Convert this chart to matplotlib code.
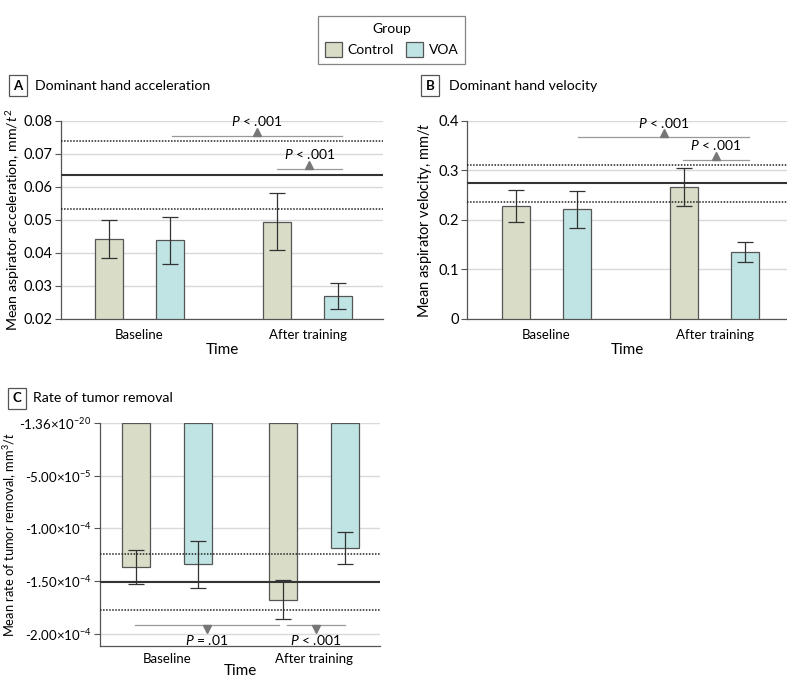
import matplotlib
matplotlib.use("Agg")
import matplotlib.pyplot as plt
from matplotlib.patches import Patch
from matplotlib.transforms import offset_copy
import numpy as np

plt.rcParams['font.family'] = ['Lato', 'DejaVu Sans']
plt.rcParams['mathtext.fontset'] = 'custom'
plt.rcParams['mathtext.rm'] = 'Lato'
plt.rcParams['mathtext.it'] = 'Lato:italic'

# data
times = ['Baseline', 'After training']
groups = ['Control', 'VOA']
colors = ['#d9dcc6', '#bfe4e3']

acc_control = [0.0441, 0.0495]
acc_control_lo = [0.0385, 0.0408]
acc_control_hi = [0.0499, 0.0581]
acc_voa = [0.0438, 0.0269]
acc_voa_lo = [0.0368, 0.0229]
acc_voa_hi = [0.0510, 0.0309]
acc_ref = [0.0533, 0.0637, 0.0739]   # lower, mean, upper

vel_control = [0.228, 0.267]
vel_control_lo = [0.195, 0.229]
vel_control_hi = [0.260, 0.304]
vel_voa = [0.2215, 0.1347]
vel_voa_lo = [0.1845, 0.1145]
vel_voa_hi = [0.258, 0.155]
vel_ref = [0.237, 0.274, 0.312]

rate_control = [-1.365e-4, -1.676e-4]
rate_control_lo = [-1.524e-4, -1.863e-4]
rate_control_hi = [-1.210e-4, -1.486e-4]
rate_voa = [-1.343e-4, -1.190e-4]
rate_voa_lo = [-1.562e-4, -1.343e-4]
rate_voa_hi = [-1.124e-4, -1.038e-4]
rate_ref = [-1.771e-4, -1.511e-4, -1.244e-4]

acc_p = ['$P$ < .001', '$P$ < .001']
vel_p = ['$P$ < .001', '$P$ < .001']
rate_p = ['$P$ = .01', '$P$ < .001']

fig = plt.figure(figsize=(7.87, 6.9), dpi=100)


def draw_panel(ax, ctrl, ctrl_lo, ctrl_hi, voa, voa_lo, voa_hi, ref, off, width, bottom):
    x = np.arange(len(times))
    for i, (m, lo, hi) in enumerate([(ctrl, ctrl_lo, ctrl_hi), (voa, voa_lo, voa_hi)]):
        xs = x + (2 * i - 1) * off
        m = np.array(m)
        ax.bar(xs, m - bottom, width, bottom=bottom, color=colors[i],
               edgecolor='#555555', linewidth=0.9, zorder=3)
        yerr = [m - np.array(lo), np.array(hi) - m]
        ax.errorbar(xs, m, yerr=yerr, fmt='none', ecolor='#333333',
                    elinewidth=0.9, capsize=5.5, capthick=0.9, zorder=4)
    ax.axhline(ref[1], color='#333333', lw=1.5, zorder=5)
    ax.axhline(ref[0], color='#222222', lw=1.1, ls=(0, (1, 1)), zorder=5)
    ax.axhline(ref[2], color='#222222', lw=1.1, ls=(0, (1, 1)), zorder=5)
    ax.set_xticks(x)
    ax.set_xticklabels(times, fontsize=9.5)
    ax.tick_params(axis='x', length=0, pad=7)
    ax.tick_params(axis='y', length=4, width=0.8, color='#555555', labelsize=10.5, pad=2)
    ax.grid(axis='y', color='#d9d9d9', lw=1, zorder=0)
    ax.set_axisbelow(True)
    for s in ['top', 'right']:
        ax.spines[s].set_visible(False)
    for s in ['left', 'bottom']:
        ax.spines[s].set_color('#555555')
        ax.spines[s].set_linewidth(0.9)
    ax.set_xlabel('Time', fontsize=11, labelpad=2)


def bracket(ax, x0, x1, y, label, up=True):
    ax.plot([x0, x1], [y, y], color='#999999', lw=0.9, zorder=6, clip_on=False)
    xm = (x0 + x1) / 2
    if up:
        tr = offset_copy(ax.transData, fig=fig, x=0, y=3, units='points')
        ax.plot([xm], [y], marker='^', ms=5.5, color='#777777', transform=tr,
                zorder=7, clip_on=False)
        tt = offset_copy(ax.transData, fig=fig, x=0, y=7, units='points')
        ax.text(xm, y, label, ha='center', va='baseline', fontsize=10, transform=tt)
    else:
        tr = offset_copy(ax.transData, fig=fig, x=0, y=-3, units='points')
        ax.plot([xm], [y], marker='v', ms=5.5, color='#777777', transform=tr,
                zorder=7, clip_on=False)
        tt = offset_copy(ax.transData, fig=fig, x=0, y=-6, units='points')
        ax.text(xm, y, label, ha='center', va='top', fontsize=10, transform=tt)


def panel_title(x_box, x_txt, y, letter, title):
    fig.text(x_box, y, letter, ha='center', va='center', fontsize=9.5, fontweight='bold',
             bbox=dict(boxstyle='square,pad=0.35', fc='white', ec='#555555', lw=0.9))
    fig.text(x_txt, y, title, ha='left', va='center', fontsize=10.2)


# Panel A
axA = fig.add_axes([0.0775, 0.5377, 0.409, 0.287])
draw_panel(axA, acc_control, acc_control_lo, acc_control_hi,
           acc_voa, acc_voa_lo, acc_voa_hi, acc_ref, 0.181, 0.167, 0.02)
axA.set_xlim(-0.466, 1.445)
axA.set_ylim(0.02, 0.08)
axA.set_yticks([0.02, 0.03, 0.04, 0.05, 0.06, 0.07, 0.08])
axA.set_yticklabels(['0.02', '0.03', '0.04', '0.05', '0.06', '0.07', '0.08'])
axA.set_ylabel('Mean aspirator acceleration, mm/$t^2$', fontsize=10.2, labelpad=1)
bracket(axA, 0.193, 1.20, 0.0755, acc_p[0])
bracket(axA, 0.816, 1.20, 0.0655, acc_p[1])
panel_title(0.023, 0.045, 0.876, 'A', 'Dominant hand acceleration')

# Panel B
axB = fig.add_axes([0.5934, 0.5377, 0.4066, 0.287])
draw_panel(axB, vel_control, vel_control_lo, vel_control_hi,
           vel_voa, vel_voa_lo, vel_voa_hi, vel_ref, 0.182, 0.167, 0.0)
axB.set_xlim(-0.473, 1.43)
axB.set_ylim(0, 0.4)
axB.set_yticks([0, 0.1, 0.2, 0.3, 0.4])
axB.set_yticklabels(['0', '0.1', '0.2', '0.3', '0.4'])
axB.set_ylabel('Mean aspirator velocity, mm/$t$', fontsize=10.5, labelpad=3)
bracket(axB, 0.1875, 1.205, 0.367, vel_p[0])
bracket(axB, 0.8125, 1.205, 0.321, vel_p[1])
panel_title(0.547, 0.571, 0.876, 'B', 'Dominant hand velocity')

# Panel C
axC = fig.add_axes([0.127, 0.0638, 0.3558, 0.3232])
draw_panel(axC, rate_control, rate_control_lo, rate_control_hi,
           rate_voa, rate_voa_lo, rate_voa_hi, rate_ref, 0.21, 0.19, 0.0)
axC.set_xlim(-0.456, 1.449)
axC.set_ylim(-2.117e-4, 0)
axC.set_yticks([0, -5e-5, -1e-4, -1.5e-4, -2e-4])
axC.set_yticklabels([r'-1.36$\times$10$^{-20}$', r'-5.00$\times$10$^{-5}$',
                     r'-1.00$\times$10$^{-4}$', r'-1.50$\times$10$^{-4}$',
                     r'-2.00$\times$10$^{-4}$'], fontsize=9.5)
axC.set_ylabel('Mean rate of tumor removal, mm$^3$/$t$', fontsize=9.3, labelpad=0)
axC.tick_params(axis='x', pad=5)
axC.xaxis.labelpad = -1
bracket(axC, -0.218, 0.762, -1.914e-4, rate_p[0], up=False)
bracket(axC, 0.816, 1.21, -1.914e-4, rate_p[1], up=False)
panel_title(0.021, 0.042, 0.423, 'C', 'Rate of tumor removal')

# Legend
handles = [Patch(facecolor=colors[i], edgecolor='#555555', lw=0.9, label=groups[i])
           for i in range(2)]
leg = fig.legend(handles=handles, title='Group', ncol=2, loc='center',
                 bbox_to_anchor=(0.498, 0.942), fontsize=10, title_fontsize=10,
                 fancybox=False, edgecolor='#666666', handlelength=1.2, handleheight=1.2,
                 handletextpad=0.4, columnspacing=0.9, borderpad=0.5)
leg.get_frame().set_linewidth(0.9)

fig.savefig('out.png', dpi=100)
